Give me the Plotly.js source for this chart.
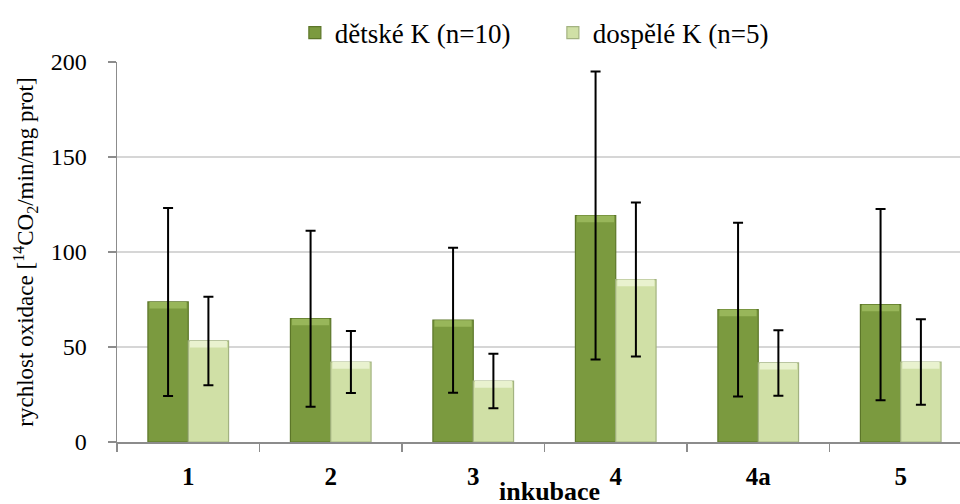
<!DOCTYPE html>
<html>
<head>
<meta charset="utf-8">
<script src="https://cdn.plot.ly/plotly-3.0.1.min.js"></script>
<style>
  html, body { margin: 0; padding: 0; background: #ffffff; }
  #chart { width: 960px; height: 504px; }
</style>
</head>
<body>
<div id="chart"></div>
<script>
// Incubation steps (x categories)
const incubations = ['1', '2', '3', '4', '4a', '5'];

// Oxidation rate, children's controls (n=10): mean and SD
const childMean = [73.7, 64.9, 64.1, 119.2, 69.7, 72.3];
const childSD   = [49.5, 46.3, 38.2, 75.8, 45.7, 50.3];

// Oxidation rate, adult controls (n=5): mean and SD
const adultMean = [53.2, 42.1, 32.1, 85.5, 41.6, 42.1];
const adultSD   = [23.3, 16.3, 14.4, 40.5, 17.2, 22.5];

const seriesNames = ['dětské K (n=10)', 'dospělé K (n=5)'];
const yTicks = [0, 50, 100, 150, 200];

const SERIF = 'Liberation Serif, Times New Roman, serif';
const BAR_W = 0.283;
const BEVEL = 3.5;   // height of the lit top bevel, in axis units

function bevel(vals) { return vals.map(() => BEVEL); }
function bevelBase(vals) { return vals.map(v => v - BEVEL); }

const errStyle = { type: 'data', symmetric: true, color: '#000000', thickness: 2, width: 5 };

const traces = [
  {
    type: 'bar', name: seriesNames[0], x: incubations, y: childMean,
    width: BAR_W, offset: -BAR_W,
    marker: { color: '#7b9a3f', line: { color: '#5c7629', width: 1.2 } }
  },
  {
    type: 'bar', name: seriesNames[1], x: incubations, y: adultMean,
    width: BAR_W, offset: 0,
    marker: { color: '#d0e0a6', line: { color: '#a3b381', width: 1.2 } }
  },
  // lit top bevel of each bar, carrying the SD error bars
  {
    type: 'bar', x: incubations, y: bevel(childMean), base: bevelBase(childMean),
    width: BAR_W * 0.92, offset: -BAR_W * 0.96, showlegend: false,
    marker: { color: '#98b65a', line: { width: 0 } },
    error_y: Object.assign({ array: childSD }, errStyle)
  },
  {
    type: 'bar', x: incubations, y: bevel(adultMean), base: bevelBase(adultMean),
    width: BAR_W * 0.92, offset: BAR_W * 0.04, showlegend: false,
    marker: { color: '#e9f2cf', line: { width: 0 } },
    error_y: Object.assign({ array: adultSD }, errStyle)
  }
];

const layout = {
  width: 960, height: 504,
  margin: { l: 117, r: 0, t: 62, b: 62, pad: 0 },
  paper_bgcolor: '#ffffff', plot_bgcolor: '#ffffff',
  barmode: 'overlay',
  showlegend: true,
  font: { family: SERIF, color: '#000000', size: 24 },
  legend: {
    orientation: 'h', x: 0.211, xanchor: 'left', y: 1.076, yanchor: 'middle',
    font: { family: SERIF, size: 27, color: '#000000' },
    entrywidth: 213, traceorder: 'normal',
    bgcolor: 'rgba(0,0,0,0)'
  },
  xaxis: {
    type: 'category', range: [-0.5, 5.416], fixedrange: true,
    showgrid: false, zeroline: false,
    showline: true, linecolor: '#8c8c8c', linewidth: 1.5,
    ticks: 'outside', tickson: 'boundaries', ticklen: 8, tickcolor: '#8c8c8c', tickwidth: 1.5,
    tickfont: { family: SERIF, size: 25, weight: 'bold', color: '#000000' },
    ticklabelstandoff: 11
  },
  yaxis: {
    range: [0, 200], fixedrange: true,
    tickvals: yTicks, ticktext: yTicks.map(String),
    showgrid: true, gridcolor: '#d6d6d6', gridwidth: 1.5,
    zeroline: false,
    showline: true, linecolor: '#8c8c8c', linewidth: 1.5,
    ticks: 'outside', ticklen: 8, tickcolor: '#8c8c8c', tickwidth: 1.5,
    tickfont: { family: SERIF, size: 24, color: '#000000' },
    ticklabelstandoff: 16,
    title: {
      text: 'rychlost oxidace [<sup>14</sup>CO<sub>2</sub>/min/mg prot]',
      font: { family: SERIF, size: 23, color: '#000000' },
      standoff: 10
    }
  },
  annotations: [
    {
      text: 'inkubace', xref: 'paper', yref: 'paper',
      x: 0.5125, y: -0.13, xanchor: 'center', yanchor: 'middle',
      showarrow: false,
      font: { family: SERIF, size: 26, weight: 'bold', color: '#000000' }
    }
  ]
};

Plotly.newPlot('chart', traces, layout, { staticPlot: true, displayModeBar: false });
</script>
</body>
</html>
